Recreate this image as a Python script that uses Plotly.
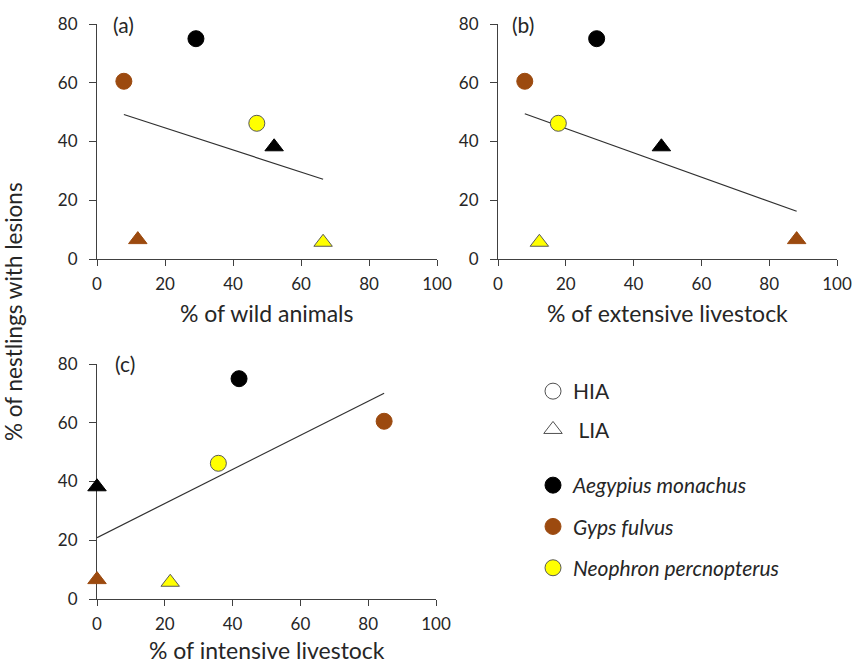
import numpy as np
import plotly.graph_objects as go

# ---------------- data ----------------
species = ["Aegypius monachus", "Gyps fulvus", "Neophron percnopterus"]
species_colors = ["#000000", "#9C4A0F", "#FFFF00"]
species_lines = ["#000000", "#9C4A0F", "#595959"]

lesions_hia = [75.0, 60.5, 46.2]
lesions_lia = [38.2, 6.6, 5.7]

wild_hia = [29.1, 7.9, 47.0]
wild_lia = [52.1, 12.0, 66.5]

extensive_hia = [29.1, 7.9, 17.8]
extensive_lia = [48.2, 88.1, 12.2]

intensive_hia = [41.9, 84.7, 35.8]
intensive_lia = [0.0, 0.0, 21.6]

panel_labels = ["(a)", "(b)", "(c)"]
x_titles = ["% of wild animals", "% of extensive livestock", "% of intensive livestock"]
y_title = "% of nestlings with lesions"
x_ticks = [0, 20, 40, 60, 80, 100]
y_ticks = [0, 20, 40, 60, 80]

W, H = 853, 667
FONT = "Lato"
AXC = "#404040"
TXT = "#262626"

panels = [
    (wild_hia, wild_lia, "x", "y"),
    (extensive_hia, extensive_lia, "x2", "y2"),
    (intensive_hia, intensive_lia, "x3", "y3"),
]

fig = go.Figure()

for hia, lia, xa, ya in panels:
    xs = np.array(hia + lia)
    ys = np.array(lesions_hia + lesions_lia)
    slope, intercept = np.polyfit(xs, ys, 1)
    xl = np.array([xs.min(), xs.max()])
    fig.add_trace(go.Scatter(x=xl, y=slope * xl + intercept, mode="lines",
                             line=dict(color="#303030", width=1.2),
                             xaxis=xa, yaxis=ya, showlegend=False, hoverinfo="skip",
                             cliponaxis=False))
    fig.add_trace(go.Scatter(x=hia, y=lesions_hia, mode="markers",
                             marker=dict(symbol="circle", size=16, color=species_colors,
                                         line=dict(color=species_lines, width=1)),
                             xaxis=xa, yaxis=ya, showlegend=False, cliponaxis=False))
    fig.add_trace(go.Scatter(x=lia, y=lesions_lia, mode="markers",
                             marker=dict(symbol="triangle-up", size=16, color=species_colors,
                                         line=dict(color=species_lines, width=1)),
                             xaxis=xa, yaxis=ya, showlegend=False, cliponaxis=False))

# legend entries
fig.add_trace(go.Scatter(x=[None], y=[None], mode="markers", name="HIA",
                         marker=dict(symbol="circle", size=18, color="white",
                                     line=dict(color="#505050", width=1)),
                         xaxis="x3", yaxis="y3", legend="legend", legendgroup="h"))
fig.add_trace(go.Scatter(x=[None], y=[None], mode="markers", name=" LIA",
                         marker=dict(symbol="triangle-up", size=18, color="white",
                                     line=dict(color="#505050", width=1)),
                         xaxis="x3", yaxis="y3", legend="legend", legendgroup="l"))
for name, col, lc in zip(species, species_colors, species_lines):
    fig.add_trace(go.Scatter(x=[None], y=[None], mode="markers",
                             name="<i>" + name + "</i>",
                             marker=dict(symbol="circle", size=18, color=col,
                                         line=dict(color=lc, width=1)),
                             xaxis="x3", yaxis="y3", legend="legend2", legendgroup=name))


def px_x(p):
    return p / W


def px_y(p):
    return 1 - p / H


xaxis_common = dict(range=[0, 100], tickvals=x_ticks, ticks="outside", ticklen=6,
                    tickcolor=AXC, showline=True, linecolor=AXC, linewidth=1,
                    showgrid=False, zeroline=False, layer="below traces",
                    tickfont=dict(family=FONT, size=17, color=TXT), automargin=False,
                    ticklabelstandoff=4, fixedrange=True)
yaxis_common = dict(range=[0, 80], tickvals=y_ticks, ticks="outside", ticklen=7,
                    tickcolor=AXC, showline=True, linecolor=AXC, linewidth=1,
                    showgrid=False, zeroline=False, layer="below traces",
                    tickfont=dict(family=FONT, size=17, color=TXT), automargin=False,
                    ticklabelstandoff=8, fixedrange=True)

fig.update_layout(
    width=W, height=H,
    margin=dict(l=0, r=0, t=0, b=0, autoexpand=False),
    paper_bgcolor="white", plot_bgcolor="white",
    font=dict(family=FONT, color=TXT),
    xaxis=dict(domain=[px_x(97), px_x(437)], anchor="y", **xaxis_common),
    yaxis=dict(domain=[px_y(259), px_y(24)], anchor="x", **yaxis_common),
    xaxis2=dict(domain=[px_x(498), px_x(837)], anchor="y2", **xaxis_common),
    yaxis2=dict(domain=[px_y(259), px_y(24)], anchor="x2", **yaxis_common),
    xaxis3=dict(domain=[px_x(97), px_x(436)], anchor="y3", **xaxis_common),
    yaxis3=dict(domain=[px_y(599), px_y(364)], anchor="x3", **yaxis_common),
    legend=dict(x=px_x(533), y=px_y(371), xanchor="left", yanchor="top",
                font=dict(family=FONT, size=21, color=TXT), tracegroupgap=8,
                itemwidth=30, bgcolor="rgba(0,0,0,0)"),
    legend2=dict(x=px_x(533), y=px_y(465), xanchor="left", yanchor="top",
                 font=dict(family=FONT, size=21, color=TXT), tracegroupgap=11,
                 itemwidth=30, bgcolor="rgba(0,0,0,0)"),
)

annotations = []
# x-axis titles
for title, cx, cy, anch in zip(x_titles, [267, 667.5, 266.5], [313, 313, 666],
                               ["middle", "middle", "bottom"]):
    annotations.append(dict(text=title, x=px_x(cx), y=px_y(cy), xref="paper", yref="paper",
                            xanchor="center", yanchor=anch, showarrow=False,
                            font=dict(family=FONT, size=23, color=TXT)))
# y-axis title
annotations.append(dict(text=y_title, x=px_x(13), y=px_y(312), xref="paper", yref="paper",
                        xanchor="center", yanchor="middle", showarrow=False, textangle=-90,
                        font=dict(family=FONT, size=22.5, color=TXT)))
# panel labels
for lab, cx, cy in zip(panel_labels, [123, 523, 125], [24, 24, 363]):
    annotations.append(dict(text=lab, x=px_x(cx), y=px_y(cy), xref="paper", yref="paper",
                            xanchor="center", yanchor="middle", showarrow=False,
                            font=dict(family=FONT, size=21, color=TXT)))
fig.update_layout(annotations=annotations)

fig.write_html("out.html", config={"displayModeBar": False},
               post_script="document.body.style.margin='0';document.body.style.overflow='hidden';")
